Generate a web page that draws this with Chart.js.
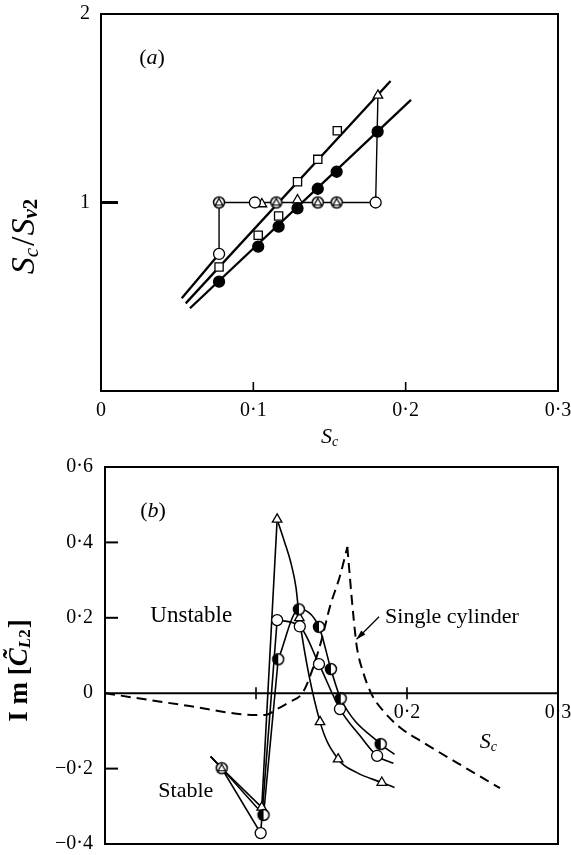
<!DOCTYPE html>
<html lang="en">
<head>
<meta charset="UTF-8">
<title>Sc/Sv2 and Im[CL2] against Sc</title>
<script src="https://cdn.jsdelivr.net/npm/chart.js"></script>
<style>
  body { margin: 0; background: #fff; }
  #wrap { position: relative; width: 571px; height: 855px; }
  canvas { position: absolute; left: 0; display: block; }
  #chartA { top: 0; }
  #chartB { top: 452px; }
</style>
</head>
<body>
<div id="wrap">
  <canvas id="chartA" width="571" height="452"></canvas>
  <canvas id="chartB" width="571" height="403"></canvas>
</div>

<script>
// ---------- panel (a): Sc/Sv2 against Sc ----------
const aTicksX = [0, 0.1, 0.2, 0.3];
const aLabelsX = ['0', '0·1', '0·2', '0·3'];
const aTicksY = [1, 2];
const aLabelsY = ['1', '2'];

// fitted straight lines
const aLineCircle = [[0.053, 0.492], [0.0775, 0.727]];
const aLineSquare = [[0.0556, 0.465], [0.1901, 1.645]];
const aLineFilled = [[0.0584, 0.439], [0.2035, 1.544]];
// jump path: up from the lowest circle, along 1, then up to the top triangle
const aStep = [[0.0775, 0.727], [0.0775, 1.0], [0.1803, 1.0], [0.1818, 1.568]];

const aCircTri = [[0.0775, 1.0], [0.1151, 1.0], [0.1423, 1.0], [0.1547, 1.0]];
const aOpen = [[0.0775, 0.727], [0.101, 1.0], [0.1803, 1.0]];
const aTri = [[0.1056, 0.992], [0.129, 1.013], [0.1818, 1.568]];
const aSquare = [[0.0775, 0.658], [0.1032, 0.826], [0.1166, 0.928], [0.129, 1.110], [0.1423, 1.229], [0.1551, 1.381]];
const aFilled = [[0.0775, 0.580], [0.1032, 0.766], [0.1166, 0.872], [0.129, 0.969], [0.1423, 1.073], [0.1547, 1.163], [0.1816, 1.376]];

// ---------- panel (b): Im[CL2] against Sc ----------
const bTicksX = [0.2, 0.3];
const bLabelsX = ['0·2', '0·3'];
const bTicksY = [-0.4, -0.2, 0, 0.2, 0.4, 0.6];
const bLabelsY = ['−0·4', '−0·2', '0', '0·2', '0·4', '0·6'];

const bTriRise = [[0.070, -0.168], [0.0773, -0.199], [0.1038, -0.303], [0.1140, 0.461]];
const bTriFall = [[0.1140, 0.461], [0.1190, 0.400], [0.1231, 0.346], [0.1265, 0.280], [0.1287, 0.200], [0.1424, -0.076], [0.1544, -0.175], [0.1665, -0.210], [0.1833, -0.237], [0.1917, -0.250]];
const bTriPts = [[0.1038, -0.303], [0.1140, 0.461], [0.1287, 0.200], [0.1424, -0.076], [0.1544, -0.175], [0.1833, -0.237]];

const bOpenRise = [[0.070, -0.168], [0.0773, -0.199], [0.1031, -0.371], [0.1140, 0.194]];
const bOpenFall = [[0.1140, 0.194], [0.1290, 0.177], [0.1417, 0.077], [0.1556, -0.042], [0.1689, -0.113], [0.1802, -0.166], [0.1910, -0.186]];
const bOpenPts = [[0.1031, -0.371], [0.1140, 0.194], [0.1290, 0.177], [0.1417, 0.077], [0.1556, -0.042], [0.1802, -0.166]];

const bHalfRise = [[0.070, -0.168], [0.0773, -0.199], [0.1050, -0.323], [0.1147, 0.090]];
const bHalfFall = [[0.1147, 0.090], [0.1284, 0.2225], [0.1417, 0.176], [0.1496, 0.064], [0.1561, -0.014], [0.1826, -0.135], [0.1917, -0.162]];
const bHalfPts = [[0.1050, -0.323], [0.1147, 0.090], [0.1284, 0.2225], [0.1417, 0.176], [0.1496, 0.064], [0.1561, -0.014], [0.1826, -0.135]];

const bCircTri = [[0.0773, -0.199]];

// single cylinder (dashed)
const bSingleRise = [[0, 0], [0.056, -0.034], [0.100, -0.058], [0.107, -0.057], [0.114, -0.042], [0.122, -0.024], [0.131, 0.002], [0.138, 0.070], [0.144, 0.150], [0.149, 0.230], [0.1556, 0.311], [0.1605, 0.388]];
const bSingleFall = [[0.1605, 0.388], [0.1623, 0.302], [0.1645, 0.205], [0.1667, 0.125], [0.171, 0.055], [0.1766, -0.003], [0.1843, -0.047], [0.1954, -0.091], [0.2108, -0.131], [0.2329, -0.184], [0.2616, -0.252]];

// ---------- helpers ----------
const SERIF = '"Liberation Serif", "Times New Roman", serif';
const font = (style, size) => `${style} ${size}px ${SERIF}`;
const pts = arr => arr.map(([x, y]) => ({ x, y }));

// small drawn markers: circle with a triangle inside, and a half-filled circle
function marker(kind, r) {
    const s = 2 * Math.ceil(r + 2);
    const c = document.createElement('canvas');
    c.width = c.height = s;
    const g = c.getContext('2d');
    const m = s / 2;
    g.strokeStyle = '#000';
    g.fillStyle = '#fff';
    g.lineWidth = 1.5;
    g.beginPath();
    g.arc(m, m, r, 0, 2 * Math.PI);
    g.fill();
    g.stroke();
    if (kind === 'half') {
        g.beginPath();
        g.moveTo(m, m - r);
        g.arc(m, m, r, -Math.PI / 2, Math.PI / 2, true);
        g.closePath();
        g.fillStyle = '#000';
        g.fill();
    }
    if (kind === 'tri') {
        g.lineWidth = 1.2;
        g.beginPath();
        g.moveTo(m, m - r * 0.75);
        g.lineTo(m - r * 0.66, m + r * 0.45);
        g.lineTo(m + r * 0.66, m + r * 0.45);
        g.closePath();
        g.stroke();
    }
    return c;
}

function lineDs(arr, width, extra) {
    return Object.assign({
        data: pts(arr), showLine: true, pointRadius: 0, borderColor: '#000',
        borderWidth: width, tension: 0, order: 2
    }, extra || {});
}

function markDs(arr, style, radius, fill) {
    return {
        data: pts(arr), showLine: false, pointStyle: style, pointRadius: radius,
        backgroundColor: fill || '#fff', borderColor: '#000', borderWidth: 1.3, order: 1
    };
}

function drawRich(ctx, segs, cx, cy) {
    let w = 0;
    segs.forEach(s => { ctx.font = s[1]; w += ctx.measureText(s[0]).width + (s[3] || 0); });
    let px = cx - w / 2;
    ctx.textAlign = 'left';
    ctx.textBaseline = 'middle';
    segs.forEach(s => {
        ctx.font = s[1];
        ctx.fillText(s[0], px, cy + (s[2] || 0));
        px += ctx.measureText(s[0]).width + (s[3] || 0);
    });
}

// box, inward ticks, zero line, labels and arrow
const decor = {
    id: 'decor',
    afterDraw(chart, args, o) {
        const { ctx, chartArea: a, scales: { x, y } } = chart;
        ctx.save();
        ctx.strokeStyle = '#000';
        ctx.fillStyle = '#000';
        ctx.lineWidth = 2;
        ctx.strokeRect(a.left, a.top, a.right - a.left, a.bottom - a.top);

        let base = a.bottom;
        if (o.zeroLine) {
            base = y.getPixelForValue(0);
            ctx.beginPath();
            ctx.moveTo(a.left, base);
            ctx.lineTo(a.right, base);
            ctx.stroke();
        }
        ctx.lineWidth = o.markXWidth;
        o.marksX.forEach(v => {
            const px = x.getPixelForValue(v);
            ctx.beginPath();
            ctx.moveTo(px, base - o.markUp);
            ctx.lineTo(px, base + o.markDown);
            ctx.stroke();
        });
        ctx.lineWidth = o.markYWidth;
        o.marksY.forEach(v => {
            const py = y.getPixelForValue(v);
            ctx.beginPath();
            ctx.moveTo(a.left, py);
            ctx.lineTo(a.left + o.markLen, py);
            ctx.stroke();
        });

        o.texts.forEach(t => drawRich(ctx, t.segs, x.getPixelForValue(t.x), y.getPixelForValue(t.y)));

        if (o.arrow) {
            const [x1, y1, x2, y2] = [x.getPixelForValue(o.arrow[0]), y.getPixelForValue(o.arrow[1]),
                x.getPixelForValue(o.arrow[2]), y.getPixelForValue(o.arrow[3])];
            const ang = Math.atan2(y2 - y1, x2 - x1);
            ctx.lineWidth = 1.3;
            ctx.beginPath();
            ctx.moveTo(x1, y1);
            ctx.lineTo(x2, y2);
            ctx.stroke();
            ctx.beginPath();
            ctx.moveTo(x2, y2);
            ctx.lineTo(x2 - 10 * Math.cos(ang - 0.3), y2 - 10 * Math.sin(ang - 0.3));
            ctx.lineTo(x2 - 10 * Math.cos(ang + 0.3), y2 - 10 * Math.sin(ang + 0.3));
            ctx.closePath();
            ctx.fill();
        }

        if (o.xTitle) {
            drawRich(ctx, o.xTitle.segs, (a.left + a.right) / 2, a.bottom + o.xTitle.dy);
        }
        if (o.yTitle) {
            ctx.translate(a.left - o.yTitle.dx, (a.top + a.bottom) / 2 + o.yTitle.dy);
            ctx.rotate(-Math.PI / 2);
            drawRich(ctx, o.yTitle.segs, 0, 0);
        }
        ctx.restore();
    }
};

// axes: labels from the arrays, no grid; the label overhang must not shrink the plot box
function axis(min, max, ticks, labels, size, padding, fit) {
    return {
        type: 'linear', min, max,
        afterBuildTicks: s => { s.ticks = ticks.map(v => ({ value: v })); },
        afterFit: s => {
            s.paddingLeft = s.paddingRight = s.paddingTop = s.paddingBottom = 0;
            if (fit) fit(s);
        },
        grid: { display: false, drawTicks: false },
        border: { display: false },
        ticks: {
            autoSkip: false, maxRotation: 0, padding, color: '#000',
            font: { family: SERIF, size },
            callback: (v, i) => labels[i]
        }
    };
}

const circTriImg = marker('tri', 5.5);
const halfImg = marker('half', 5.5);

// ---------- chart (a) ----------
new Chart(document.getElementById('chartA'), {
    type: 'scatter',
    data: {
        datasets: [
            markDs(aCircTri, circTriImg, 6),
            markDs(aFilled, 'circle', 5.5, '#000'),
            markDs(aOpen, 'circle', 5.5),
            markDs(aTri, 'triangle', 5.5),
            markDs(aSquare, 'rect', 5.8),
            lineDs(aLineCircle, 2.3),
            lineDs(aLineSquare, 2.3),
            lineDs(aLineFilled, 2.3),
            lineDs(aStep, 1.4)
        ]
    },
    options: {
        responsive: false, animation: false, devicePixelRatio: 1, events: [],
        layout: { padding: { top: 14, right: 13, left: 0, bottom: 0 } },
        plugins: {
            legend: { display: false },
            tooltip: { enabled: false },
            decor: {
                marksX: [0.1, 0.2], markUp: 9, markDown: 0, markXWidth: 1.6,
                marksY: [1], markLen: 17, markYWidth: 3,
                texts: [
                    { x: 0.0335, y: 1.767, segs: [['(', font('', 22)], ['a', font('italic', 22)], [')', font('', 22)]] }
                ],
                xTitle: { dy: 46, segs: [['S', font('italic', 22)], ['c', font('italic', 14), 5]] },
                yTitle: { dx: 76, dy: 34, segs: [
                    ['S', font('italic', 34)], ['c', font('italic', 21), 7, 2],
                    ['/', font('', 34), 0, 1], ['S', font('italic', 34)],
                    ['v', font('italic bold', 21), 7], ['2', font('bold', 21), 7]
                ] }
            }
        },
        scales: {
            x: axis(0, 0.3, aTicksX, aLabelsX, 20, 8, s => { s.height = 61; }),
            y: axis(0, 2, aTicksY, aLabelsY, 20, 11, s => { s.width = 101; })
        }
    },
    plugins: [decor]
});

// ---------- chart (b) ----------
const curve = { cubicInterpolationMode: 'monotone' };
const bX = axis(0, 0.3, bTicksX, bLabelsX, 20, 8);
bX.position = { y: 0 };
new Chart(document.getElementById('chartB'), {
    type: 'scatter',
    data: {
        datasets: [
            markDs(bCircTri, circTriImg, 6),
            markDs(bHalfPts, halfImg, 6),
            markDs(bOpenPts, 'circle', 5.5),
            markDs(bTriPts, 'triangle', 5.5),
            lineDs(bTriRise, 1.6),
            lineDs(bTriFall, 1.6, curve),
            lineDs(bOpenRise, 1.6),
            lineDs(bOpenFall, 1.6, curve),
            lineDs(bHalfRise, 1.6),
            lineDs(bHalfFall, 1.6, curve),
            lineDs(bSingleRise, 2, Object.assign({ borderDash: [10, 6] }, curve)),
            lineDs(bSingleFall, 2, Object.assign({ borderDash: [10, 6] }, curve))
        ]
    },
    options: {
        responsive: false, animation: false, devicePixelRatio: 1, events: [],
        layout: { padding: { top: 15, right: 13, left: 0, bottom: 11 } },
        plugins: {
            legend: { display: false },
            tooltip: { enabled: false },
            decor: {
                zeroLine: true,
                marksX: [0.1, 0.2], markUp: 6, markDown: 6, markXWidth: 1.6,
                marksY: [-0.2, 0.2, 0.4], markLen: 13, markYWidth: 2,
                texts: [
                    { x: 0.0318, y: 0.482, segs: [['(', font('', 22)], ['b', font('italic', 22)], [')', font('', 22)]] },
                    { x: 0.0571, y: 0.205, segs: [['Unstable', font('', 23)]] },
                    { x: 0.0535, y: -0.259, segs: [['Stable', font('', 22)]] },
                    { x: 0.2298, y: 0.2005, segs: [['Single cylinder', font('', 22)]] },
                    { x: 0.2538, y: -0.131, segs: [['S', font('italic', 22)], ['c', font('italic', 14), 5]] }
                ],
                arrow: [0.1815, 0.203, 0.1666, 0.143],
                yTitle: { dx: 85, dy: 15, segs: [
                    ['I m [', font('bold', 27)], ['C\u0303', font('italic bold', 27)],
                    ['L', font('italic bold', 17), 6], ['2', font('bold', 17), 6, 1], [']', font('bold', 27)]
                ] }
            }
        },
        scales: {
            x: bX,
            y: axis(-0.4, 0.6, bTicksY, bLabelsY, 20, 12, s => { s.width = 105; })
        }
    },
    plugins: [decor]
});
</script>
</body>
</html>
